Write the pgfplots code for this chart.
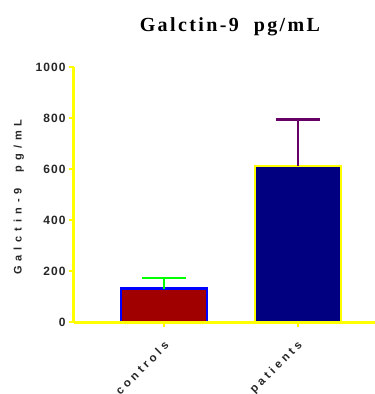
\documentclass[border=0pt]{standalone}
\usepackage{pgfplots}
\pgfplotsset{compat=1.18}
\usepackage{fontspec}
\setmainfont{Liberation Sans}
\newfontfamily\lsY[LetterSpace=45]{Liberation Sans}
\newfontfamily\lsX[LetterSpace=30]{Liberation Sans}
\newfontfamily\lsT[LetterSpace=9]{Liberation Sans}
\newfontfamily\ttl[LetterSpace=12]{Liberation Serif}
\definecolor{barred}{RGB}{160,0,0}
\definecolor{barnavy}{RGB}{0,0,128}
\definecolor{ebpurple}{RGB}{102,0,102}
\definecolor{ebgreen}{RGB}{0,255,0}
\definecolor{axyellow}{RGB}{255,255,0}
\begin{document}
\begin{tikzpicture}
\useasboundingbox (-74pt,-72pt) rectangle (301pt,322pt);
\begin{axis}[
  at={(0pt,0pt)}, anchor=south west,
  scale only axis, width=301pt, height=255pt,
  xmin=-0.672, xmax=1.575, ymin=0, ymax=1000,
  axis x line=bottom, axis y line=left,
  axis line style={axyellow, line width=3pt, -},
  axis on top,
  clip=false,
  ytick={0,200,400,600,800,1000},
  xtick={0,1}, xticklabels={controls,patients},
  tick style={axyellow, line width=2pt},
  tick align=outside, major tick length=5pt,
  /pgf/number format/1000 sep={},
  yticklabel style={font=\lsT\bfseries\fontsize{12}{12}\selectfont, text=black!85},
  xticklabel style={font=\lsX\bfseries\fontsize{11.5}{11.5}\selectfont, xshift=5pt, yshift=-14pt, rotate=45, anchor=east, text=black!85},
  /pgf/number format/assume math mode=true,
  ylabel={Galctin-9\ \ pg/mL},
  ylabel style={font=\lsY\bfseries\fontsize{11}{11}\selectfont, at={(axis description cs:-0.183,0.49)}, anchor=center, text=black!85},
  title={Galctin-9\ \ pg/mL},
  title style={font=\ttl\bfseries\fontsize{20}{20}\selectfont, at={(axis description cs:0.518,1.135)}, anchor=center},
]
\addplot[ybar, bar width=86pt, bar shift=0pt, fill=barred, draw=blue, line width=2.8pt,
  error bars/.cd, y dir=plus, y explicit,
  error bar style={ebgreen, line width=2pt},
  error mark=|, error mark options={ebgreen, line width=2.5pt, mark size=22pt}]
  coordinates {(0,131) +- (0,42)};
\addplot[ybar, bar width=86pt, bar shift=0pt, fill=barnavy, draw=axyellow, line width=2.8pt,
  error bars/.cd, y dir=plus, y explicit,
  error bar style={ebpurple, line width=2pt},
  error mark=|, error mark options={ebpurple, line width=2.5pt, mark size=22pt}]
  coordinates {(1,612) +- (0,182)};
\end{axis}
\end{tikzpicture}
\end{document}
